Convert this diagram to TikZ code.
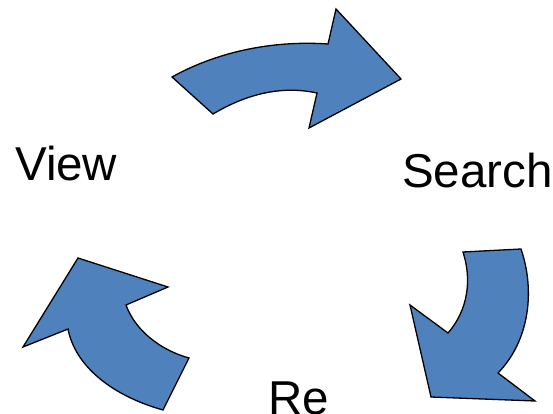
\documentclass[tikz,border=0pt]{standalone}
\usepackage{fontspec}
\setmainfont{Liberation Sans}
\definecolor{arrowblue}{HTML}{4F81BD}
\begin{document}
\begin{tikzpicture}[x=1pt,y=-1pt,
  cyclearrow/.style={fill=arrowblue,draw=black,line width=1.3pt,line join=miter},
  label/.style={anchor=base west,inner sep=0pt,font=\fontsize{47.5}{50}\selectfont}]
\useasboundingbox (0,0) rectangle (553,414);
% top arrow
\draw[cyclearrow] (172,77) .. controls (215,53) and (270,40) .. (328,44) -- (336,9) -- (401,79) -- (309,128) -- (317,93) .. controls (280,85) and (245,95) .. (213,114) -- cycle;
% right arrow
\draw[cyclearrow] (463,252) -- (521,249) .. controls (535,290) and (530,340) .. (498,373) -- (535,401) -- (431,397) -- (410,305) -- (448,333) .. controls (468,310) and (472,280) .. (463,252) -- cycle;
% left arrow
\draw[cyclearrow] (78,258) -- (168,287) -- (126,305) .. controls (135,330) and (160,350) .. (189,358) -- (163,410) .. controls (110,395) and (75,365) .. (68,329) -- (23,347) -- cycle;
\node[label] (view) at (15,180) {View};
\node[label] (search) at (402,187) {Search};
\node[label] (re) at (268,414) {Re};
\end{tikzpicture}
\end{document}
